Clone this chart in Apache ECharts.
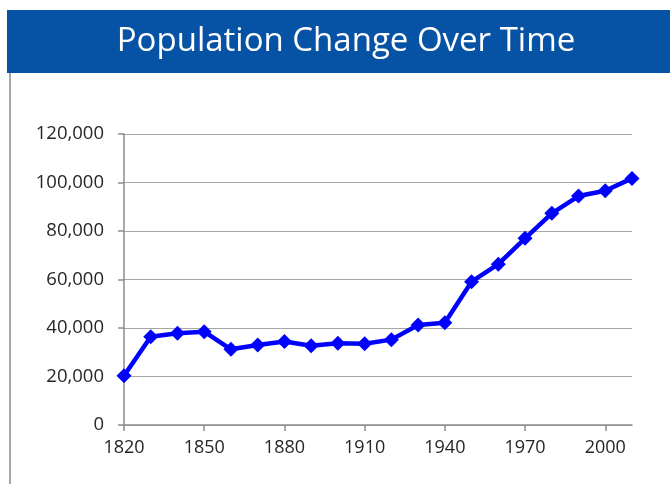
<!DOCTYPE html>
<html>
<head>
<meta charset="utf-8">
<script src="https://cdn.jsdelivr.net/npm/echarts@6/dist/echarts.min.js"></script>
<style>
html,body{margin:0;padding:0;background:#fff;}
#chart{width:670px;height:484px;}
</style>
</head>
<body>
<div id="chart"></div>
<script>
var titleText = 'Population Change Over Time';
var years = ['1820','1830','1840','1850','1860','1870','1880','1890','1900','1910','1920','1930','1940','1950','1960','1970','1980','1990','2000','2010'];
var population = [20300,36400,37800,38500,31200,33000,34400,32700,33700,33500,35200,41200,42200,59100,66300,77000,87300,94400,96600,101700];
var yTicks = {min:0, max:120000, step:20000};

var chart = echarts.init(document.getElementById('chart'), null, {renderer:'canvas'});
chart.setOption({
  backgroundColor:'#ffffff',
  animation:false,
  title:{
    text:titleText,
    left:341, top:20, textAlign:'center',
    textStyle:{color:'#ffffff', fontFamily:'Open Sans', fontSize:33, fontWeight:500}
  },
  graphic:[
    {type:'rect', shape:{x:7,y:10,width:663,height:63}, style:{fill:'#0652A4'}, z:-1},
    {type:'rect', shape:{x:9,y:73,width:2,height:411}, style:{fill:'#A6A6A6'}, z:-1}
  ],
  grid:{left:124, right:38, top:134, bottom:59},
  xAxis:{
    type:'category', data:years, boundaryGap:false,
    axisLine:{lineStyle:{color:'#8C8C8C', width:1.5}},
    axisTick:{show:true, interval:2, length:6, lineStyle:{color:'#8C8C8C', width:1.5}},
    axisLabel:{interval:2, margin:14, color:'#262626', fontFamily:'Open Sans', fontSize:18},
    splitLine:{show:false}
  },
  yAxis:{
    type:'value', min:yTicks.min, max:yTicks.max, interval:yTicks.step,
    axisLine:{show:true, lineStyle:{color:'#8C8C8C', width:1.5}},
    axisTick:{show:true, length:6, lineStyle:{color:'#8C8C8C', width:1.5}},
    axisLabel:{margin:20, color:'#262626', fontFamily:'Open Sans', fontSize:18.5,
      formatter:function(v){return v.toLocaleString('en-US');}},
    splitLine:{show:true, lineStyle:{color:'#A6A6A6', width:1.2}}
  },
  series:[{
    type:'line', data:population,
    lineStyle:{color:'#0000FF', width:4.5},
    itemStyle:{color:'#0000FF'},
    symbol:'diamond', symbolSize:15, showSymbol:true
  }]
});
</script>
</body>
</html>
